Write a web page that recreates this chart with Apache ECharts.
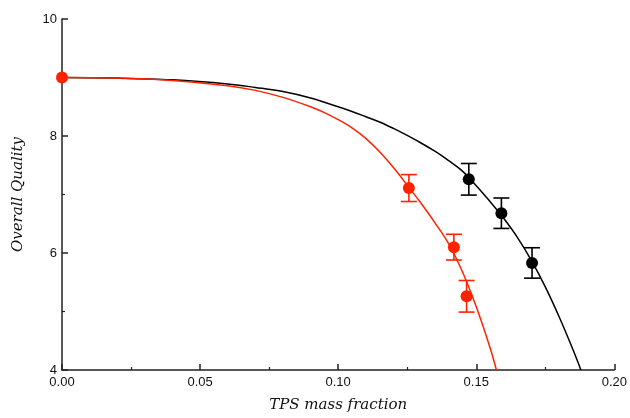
<!DOCTYPE html>
<html>
<head>
<meta charset="utf-8">
<script src="https://cdn.jsdelivr.net/npm/echarts@6/dist/echarts.min.js"></script>
<style>
  html, body { margin: 0; padding: 0; background: #fff; }
  #chart { width: 630px; height: 418px; }
</style>
</head>
<body>
<div id="chart"></div>
<script type="text/javascript">
	// measured points
	var redX = [0, 0.1256, 0.1419, 0.1465];
	var redY = [9.0, 7.11, 6.10, 5.26];
	var redErr = [0, 0.23, 0.22, 0.27];
	var blackX = [0.1473, 0.1591, 0.1702];
	var blackY = [7.26, 6.68, 5.83];
	var blackErr = [0.27, 0.26, 0.26];

	// fitted curves
	var redCurveX = [0, 0.02, 0.04, 0.06, 0.07, 0.08, 0.09, 0.095, 0.10, 0.105, 0.11, 0.115, 0.12, 0.125, 0.13, 0.135, 0.14, 0.145, 0.15, 0.155, 0.1573];
	var redCurveY = [9.00, 8.99, 8.95, 8.86, 8.78, 8.66, 8.50, 8.40, 8.28, 8.14, 7.96, 7.73, 7.46, 7.16, 6.85, 6.52, 6.16, 5.68, 5.08, 4.38, 4.00];
	var blackCurveX = [0, 0.02, 0.04, 0.06, 0.07, 0.08, 0.09, 0.10, 0.105, 0.11, 0.115, 0.12, 0.125, 0.13, 0.135, 0.14, 0.145, 0.15, 0.155, 0.16, 0.165, 0.17, 0.175, 0.18, 0.185, 0.1879];
	var blackCurveY = [9.00, 8.99, 8.96, 8.89, 8.83, 8.76, 8.65, 8.50, 8.42, 8.33, 8.24, 8.13, 8.01, 7.88, 7.74, 7.58, 7.40, 7.15, 6.88, 6.59, 6.26, 5.87, 5.42, 4.91, 4.35, 4.00];

	var RED = '#ff2200';
	var BLACK = '#000000';

	function zip(xs, ys) {
		var out = [];
		for (var i = 0; i < xs.length; i++) out.push([xs[i], ys[i]]);
		return out;
	}
	function bars(xs, ys, es) {
		var out = [];
		for (var i = 0; i < xs.length; i++) {
			if (es[i] > 0) out.push([xs[i], ys[i] - es[i], ys[i] + es[i]]);
		}
		return out;
	}
	function errorBar(color) {
		return function (params, api) {
			var lo = api.coord([api.value(0), api.value(1)]);
			var hi = api.coord([api.value(0), api.value(2)]);
			var w = 8;
			var st = { stroke: color, lineWidth: 1.6 };
			return {
				type: 'group',
				children: [
					{ type: 'line', shape: { x1: lo[0], y1: lo[1], x2: hi[0], y2: hi[1] }, style: st },
					{ type: 'line', shape: { x1: lo[0] - w, y1: lo[1], x2: lo[0] + w, y2: lo[1] }, style: st },
					{ type: 'line', shape: { x1: hi[0] - w, y1: hi[1], x2: hi[0] + w, y2: hi[1] }, style: st }
				]
			};
		};
	}

	var axisFont = { fontFamily: 'Liberation Sans', fontSize: 13, color: '#111' };
	var nameFont = { fontFamily: 'DejaVu Serif', fontStyle: 'italic', fontSize: 15, color: '#111' };

	var myChart = echarts.init(document.getElementById('chart'), null, { renderer: 'canvas' });
	var option = {
		animation: false,
		backgroundColor: '#fff',
		grid: { left: 62, right: 11, top: 19, bottom: 46 },
		xAxis: {
			type: 'value',
			min: 0, max: 0.2, interval: 0.05,
			name: 'TPS mass fraction',
			nameLocation: 'middle',
			nameGap: 28,
			nameTextStyle: nameFont,
			axisLine: { lineStyle: { color: '#222', width: 1.5 } },
			axisTick: { inside: true, length: 6, lineStyle: { color: '#222', width: 1.5 } },
			minorTick: { show: true, splitNumber: 2, length: 3, lineStyle: { color: '#222', width: 1.2 } },
			splitLine: { show: false },
			axisLabel: Object.assign({ margin: 6, formatter: function (v) { return v.toFixed(2); } }, axisFont)
		},
		yAxis: {
			type: 'value',
			min: 4, max: 10, interval: 2,
			name: 'Overall Quality',
			nameLocation: 'middle',
			nameGap: 36,
			nameTextStyle: nameFont,
			axisLine: { show: true, lineStyle: { color: '#222', width: 1.5 } },
			axisTick: { show: true, inside: true, length: 6, lineStyle: { color: '#222', width: 1.5 } },
			minorTick: { show: true, splitNumber: 2, length: 3, lineStyle: { color: '#222', width: 1.2 } },
			splitLine: { show: false },
			axisLabel: Object.assign({ margin: 5 }, axisFont)
		},
		series: [
			{
				type: 'line', data: zip(blackCurveX, blackCurveY), smooth: 0.35,
				showSymbol: false, lineStyle: { color: BLACK, width: 1.5 }, z: 2
			},
			{
				type: 'line', data: zip(redCurveX, redCurveY), smooth: 0.35,
				showSymbol: false, lineStyle: { color: RED, width: 1.5 }, z: 2
			},
			{
				type: 'custom', data: bars(blackX, blackY, blackErr),
				renderItem: errorBar(BLACK), encode: { x: 0, y: [1, 2] }, z: 3
			},
			{
				type: 'custom', data: bars(redX, redY, redErr),
				renderItem: errorBar(RED), encode: { x: 0, y: [1, 2] }, z: 3
			},
			{
				type: 'scatter', data: zip(blackX, blackY), symbolSize: 12,
				itemStyle: { color: BLACK, opacity: 1 }, clip: false, z: 4
			},
			{
				type: 'scatter', data: zip(redX, redY), symbolSize: 12,
				itemStyle: { color: RED, opacity: 1 }, clip: false, z: 4
			}
		]
	};
	myChart.setOption(option);
</script>
</body>
</html>
